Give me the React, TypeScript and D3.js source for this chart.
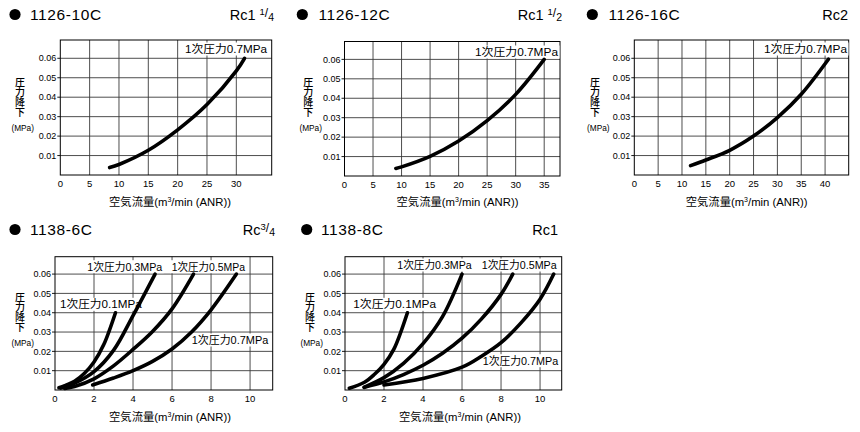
import React from 'react';
import * as d3 from 'd3';

const FONT = "'Liberation Sans', Arial, 'Noto Sans CJK JP', sans-serif";
const CJK = "'Noto Sans CJK JP', 'Liberation Sans', sans-serif";

// ---------- data ----------
const yTicks = [0.01, 0.02, 0.03, 0.04, 0.05, 0.06];
const xTicks30 = [0, 5, 10, 15, 20, 25, 30];
const xTicks35 = [0, 5, 10, 15, 20, 25, 30, 35];
const xTicks40 = [0, 5, 10, 15, 20, 25, 30, 35, 40];
const xTicks10 = [0, 2, 4, 6, 8, 10];

const models = ['1126-10C', '1126-12C', '1126-16C', '1138-6C', '1138-8C'];
const portMain = ['Rc1 ', 'Rc1 ', 'Rc2', 'Rc', 'Rc1'];
const portNum = ['1', '1', '', '3', ''];
const portDen = ['4', '2', '', '4', ''];

const pressureLabels = ['1次圧力0.1MPa', '1次圧力0.3MPa', '1次圧力0.5MPa', '1次圧力0.7MPa'];

// 1126-10C (0.7MPa)
const p1Flow = [8.4, 10, 15, 20, 25, 30, 31.4];
const p1Drop = [0.0038, 0.0054, 0.0127, 0.0232, 0.0362, 0.0535, 0.060];
// 1126-12C (0.7MPa)
const p2Flow = [9, 10, 15, 20, 25, 30, 35];
const p2Drop = [0.0039, 0.0047, 0.0101, 0.018, 0.0285, 0.042, 0.060];
// 1126-16C (0.7MPa)
const p3Flow = [11.8, 15, 20, 25, 30, 35, 40.7];
const p3Drop = [0.0048, 0.0077, 0.0127, 0.020, 0.0295, 0.0415, 0.0595];

// 1138-6C
const p4Flow01 = [0.2, 0.5, 1, 1.5, 2, 2.5, 3.1];
const p4Drop01 = [0.0012, 0.0022, 0.0045, 0.0085, 0.0145, 0.0235, 0.040];
const p4Flow03 = [0.3, 1, 2, 3, 4, 5.13];
const p4Drop03 = [0.001, 0.0035, 0.0095, 0.0205, 0.0385, 0.060];
const p4Flow05 = [0.5, 1, 2, 3, 4, 5, 6, 7.1];
const p4Drop05 = [0.0008, 0.0018, 0.0058, 0.0125, 0.021, 0.0303, 0.042, 0.060];
const p4Flow07 = [1.93, 3, 4, 5, 6, 7, 8, 9.3];
const p4Drop07 = [0.0026, 0.0062, 0.010, 0.0148, 0.0212, 0.030, 0.0415, 0.060];

// 1138-8C
const p5Flow01 = [0.22, 1, 1.5, 2, 2.5, 3.2];
const p5Drop01 = [0.0009, 0.004, 0.008, 0.0133, 0.021, 0.040];
const p5Flow03 = [0.97, 2, 3, 4, 5, 6];
const p5Drop03 = [0.0014, 0.0064, 0.0138, 0.024, 0.038, 0.060];
const p5Flow05 = [1, 2, 3, 4, 5, 6, 7, 8, 8.6];
const p5Drop05 = [0.0014, 0.0042, 0.008, 0.0128, 0.019, 0.0268, 0.0368, 0.0495, 0.060];
const p5Flow07 = [2, 4, 6, 7, 8, 9, 10, 10.7];
const p5Drop07 = [0.0026, 0.006, 0.0118, 0.0175, 0.0245, 0.0345, 0.047, 0.060];

// ---------- layout ----------
type Lbl = { text: string; x0: number; x1: number; yc: number };
type PanelCfg = {
  ox: number; oy: number;
  left: number; right: number; top: number; bottom: number;
  xMax: number; yMax: number; xTicks: number[];
  dotX: number; titleX: number; rcRight: number;
  yLabX: number; mpaX: number; xTitleX: number;
  model: string; pMain: string; pNum: string; pDen: string;
  curves: { flow: number[]; drop: number[] }[];
  labels: Lbl[];
};

const panels: PanelCfg[] = [
  {
    ox: 0, oy: 0, left: 60.3, right: 271.7, top: 40, bottom: 175, xMax: 36.03, yMax: 0.0694, xTicks: xTicks30,
    dotX: 15, titleX: 30, rcRight: 274, yLabX: 20, mpaX: 22.7, xTitleX: 170,
    model: models[0], pMain: portMain[0], pNum: portNum[0], pDen: portDen[0],
    curves: [{ flow: p1Flow, drop: p1Drop }],
    labels: [{ text: pressureLabels[3], x0: 185, x1: 267, yc: 49 }],
  },
  {
    ox: 290, oy: 0, left: 54.5, right: 270, top: 41.5, bottom: 176, xMax: 37.77, yMax: 0.0692, xTicks: xTicks35,
    dotX: 12.3, titleX: 28.5, rcRight: 272, yLabX: 18.3, mpaX: 20.7, xTitleX: 167.5,
    model: models[1], pMain: portMain[1], pNum: portNum[1], pDen: portDen[1],
    curves: [{ flow: p2Flow, drop: p2Drop }],
    labels: [{ text: pressureLabels[3], x0: 185, x1: 268, yc: 52 }],
  },
  {
    ox: 580, oy: 0, left: 54.3, right: 268.7, top: 40, bottom: 175, xMax: 44.95, yMax: 0.0694, xTicks: xTicks40,
    dotX: 12.3, titleX: 28.5, rcRight: 268, yLabX: 15, mpaX: 18.3, xTitleX: 166.7,
    model: models[2], pMain: portMain[2], pNum: portNum[2], pDen: portDen[2],
    curves: [{ flow: p3Flow, drop: p3Drop }],
    labels: [{ text: pressureLabels[3], x0: 184, x1: 267, yc: 49 }],
  },
  {
    ox: 0, oy: 215, left: 55, right: 272.7, top: 41.7, bottom: 175, xMax: 11.16, yMax: 0.069, xTicks: xTicks10,
    dotX: 15, titleX: 30, rcRight: 275, yLabX: 20, mpaX: 22.7, xTitleX: 170,
    model: models[3], pMain: portMain[3], pNum: portNum[3], pDen: portDen[3],
    curves: [
      { flow: p4Flow01, drop: p4Drop01 },
      { flow: p4Flow03, drop: p4Drop03 },
      { flow: p4Flow05, drop: p4Drop05 },
      { flow: p4Flow07, drop: p4Drop07 },
    ],
    labels: [
      { text: pressureLabels[1], x0: 87.3, x1: 162.3, yc: 51.7 },
      { text: pressureLabels[2], x0: 171.7, x1: 245, yc: 51.7 },
      { text: pressureLabels[0], x0: 60, x1: 141.7, yc: 89.3 },
      { text: pressureLabels[3], x0: 191.7, x1: 268.3, yc: 125 },
    ],
  },
  {
    ox: 290, oy: 215, left: 55, right: 271.7, top: 41.7, bottom: 175, xMax: 11.11, yMax: 0.069, xTicks: xTicks10,
    dotX: 16.7, titleX: 31, rcRight: 268, yLabX: 20, mpaX: 21.7, xTitleX: 170,
    model: models[4], pMain: portMain[4], pNum: portNum[4], pDen: portDen[4],
    curves: [
      { flow: p5Flow01, drop: p5Drop01 },
      { flow: p5Flow03, drop: p5Drop03 },
      { flow: p5Flow05, drop: p5Drop05 },
      { flow: p5Flow07, drop: p5Drop07 },
    ],
    labels: [
      { text: pressureLabels[1], x0: 107.3, x1: 181.7, yc: 50 },
      { text: pressureLabels[2], x0: 191.7, x1: 266.7, yc: 50 },
      { text: pressureLabels[0], x0: 63.3, x1: 146, yc: 89.3 },
      { text: pressureLabels[3], x0: 192.7, x1: 268.3, yc: 145.7 },
    ],
  },
];

function Panel({ c }: { c: PanelCfg }) {
  const x = d3.scaleLinear().domain([0, c.xMax]).range([c.left, c.right]);
  const y = d3.scaleLinear().domain([0, c.yMax]).range([c.bottom, c.top]);
  const line = d3
    .line<[number, number]>()
    .x((d) => x(d[0]))
    .y((d) => y(d[1]))
    .curve(d3.curveCatmullRom.alpha(0.5));
  return (
    <g transform={`translate(${c.ox},${c.oy})`}>
      {/* title */}
      <circle cx={c.dotX} cy={14.5} r={5.6} fill="#000" />
      <text x={c.titleX} y={20.3} fontFamily={FONT} fontSize={15.5} letterSpacing={0.6} fill="#000">
        {c.model}
      </text>
      <text x={c.rcRight} y={20.3} textAnchor="end" fontFamily={FONT} fontSize={14.5} fill="#000">
        {c.pMain}
        {c.pNum && (
          <>
            <tspan fontSize={9.5} dy={-5}>{c.pNum}</tspan>
            <tspan fontSize={12} dy={1.5}>/</tspan>
            <tspan fontSize={10.5} dy={4.5}>{c.pDen}</tspan>
          </>
        )}
      </text>

      {/* grid */}
      {c.xTicks.filter((t) => t > 0).map((t) => (
        <line key={'gx' + t} x1={x(t)} x2={x(t)} y1={c.top} y2={c.bottom} stroke="#3a3a3a" strokeWidth={0.9} />
      ))}
      {yTicks.map((t) => (
        <line key={'gy' + t} x1={c.left} x2={c.right} y1={y(t)} y2={y(t)} stroke="#3a3a3a" strokeWidth={0.9} />
      ))}
      {yTicks.map((t) => (
        <line key={'ty' + t} x1={c.left - 3} x2={c.left} y1={y(t)} y2={y(t)} stroke="#000" strokeWidth={0.9} />
      ))}
      <rect x={c.left} y={c.top} width={c.right - c.left} height={c.bottom - c.top} fill="none" stroke="#000" strokeWidth={1} />

      {/* labels with white boxes */}
      {c.labels.map((l, i) => (
        <g key={'l' + i}>
          <rect x={l.x0 - 1.5} y={l.yc - 6.5} width={l.x1 - l.x0 + 3} height={13} fill="#fff" />
          <text x={l.x0} y={l.yc + 4} fontFamily={FONT} fontSize={11} textLength={l.x1 - l.x0} lengthAdjust="spacingAndGlyphs" fill="#000">
            {l.text}
          </text>
        </g>
      ))}

      {/* curves */}
      {c.curves.map((cv, i) => (
        <path
          key={'c' + i}
          d={line(cv.flow.map((f, j) => [f, cv.drop[j]] as [number, number])) || ''}
          fill="none"
          stroke="#000"
          strokeWidth={3.6}
          strokeLinecap="round"
        />
      ))}

      {/* tick labels */}
      {yTicks.map((t) => (
        <text key={'yl' + t} x={c.left - 4} y={y(t) + 3.2} textAnchor="end" fontFamily={FONT} fontSize={9} fill="#000">
          {t.toFixed(2)}
        </text>
      ))}
      {c.xTicks.map((t) => (
        <text key={'xl' + t} x={x(t)} y={c.bottom + 11.5} textAnchor="middle" fontFamily={FONT} fontSize={9.5} fill="#000">
          {t}
        </text>
      ))}

      {/* axis titles */}
      <text
        x={c.yLabX}
        y={77.5}
        fontFamily={CJK}
        fontSize={10}
        fontWeight={500}
        fill="#000"
        style={{ writingMode: 'vertical-rl' } as React.CSSProperties}
      >
        圧力降下
      </text>
      <text x={c.mpaX} y={131} textAnchor="middle" fontFamily={FONT} fontSize={8.3} fill="#000">
        (MPa)
      </text>
      <text x={c.xTitleX} y={206} textAnchor="middle" fontFamily={FONT} fontSize={11.3} fill="#000">
        空気流量(m<tspan fontSize={7} dy={-4}>3</tspan><tspan dy={4}>/min (ANR))</tspan>
      </text>
    </g>
  );
}

export default function App() {
  return (
    <svg
      width={860}
      height={432}
      viewBox="0 0 860 432"
      style={{ position: 'absolute', left: 0, top: 0, background: '#fff' }}
    >
      <rect x={0} y={0} width={860} height={432} fill="#fff" />
      {panels.map((p, i) => (
        <Panel key={i} c={p} />
      ))}
    </svg>
  );
}
